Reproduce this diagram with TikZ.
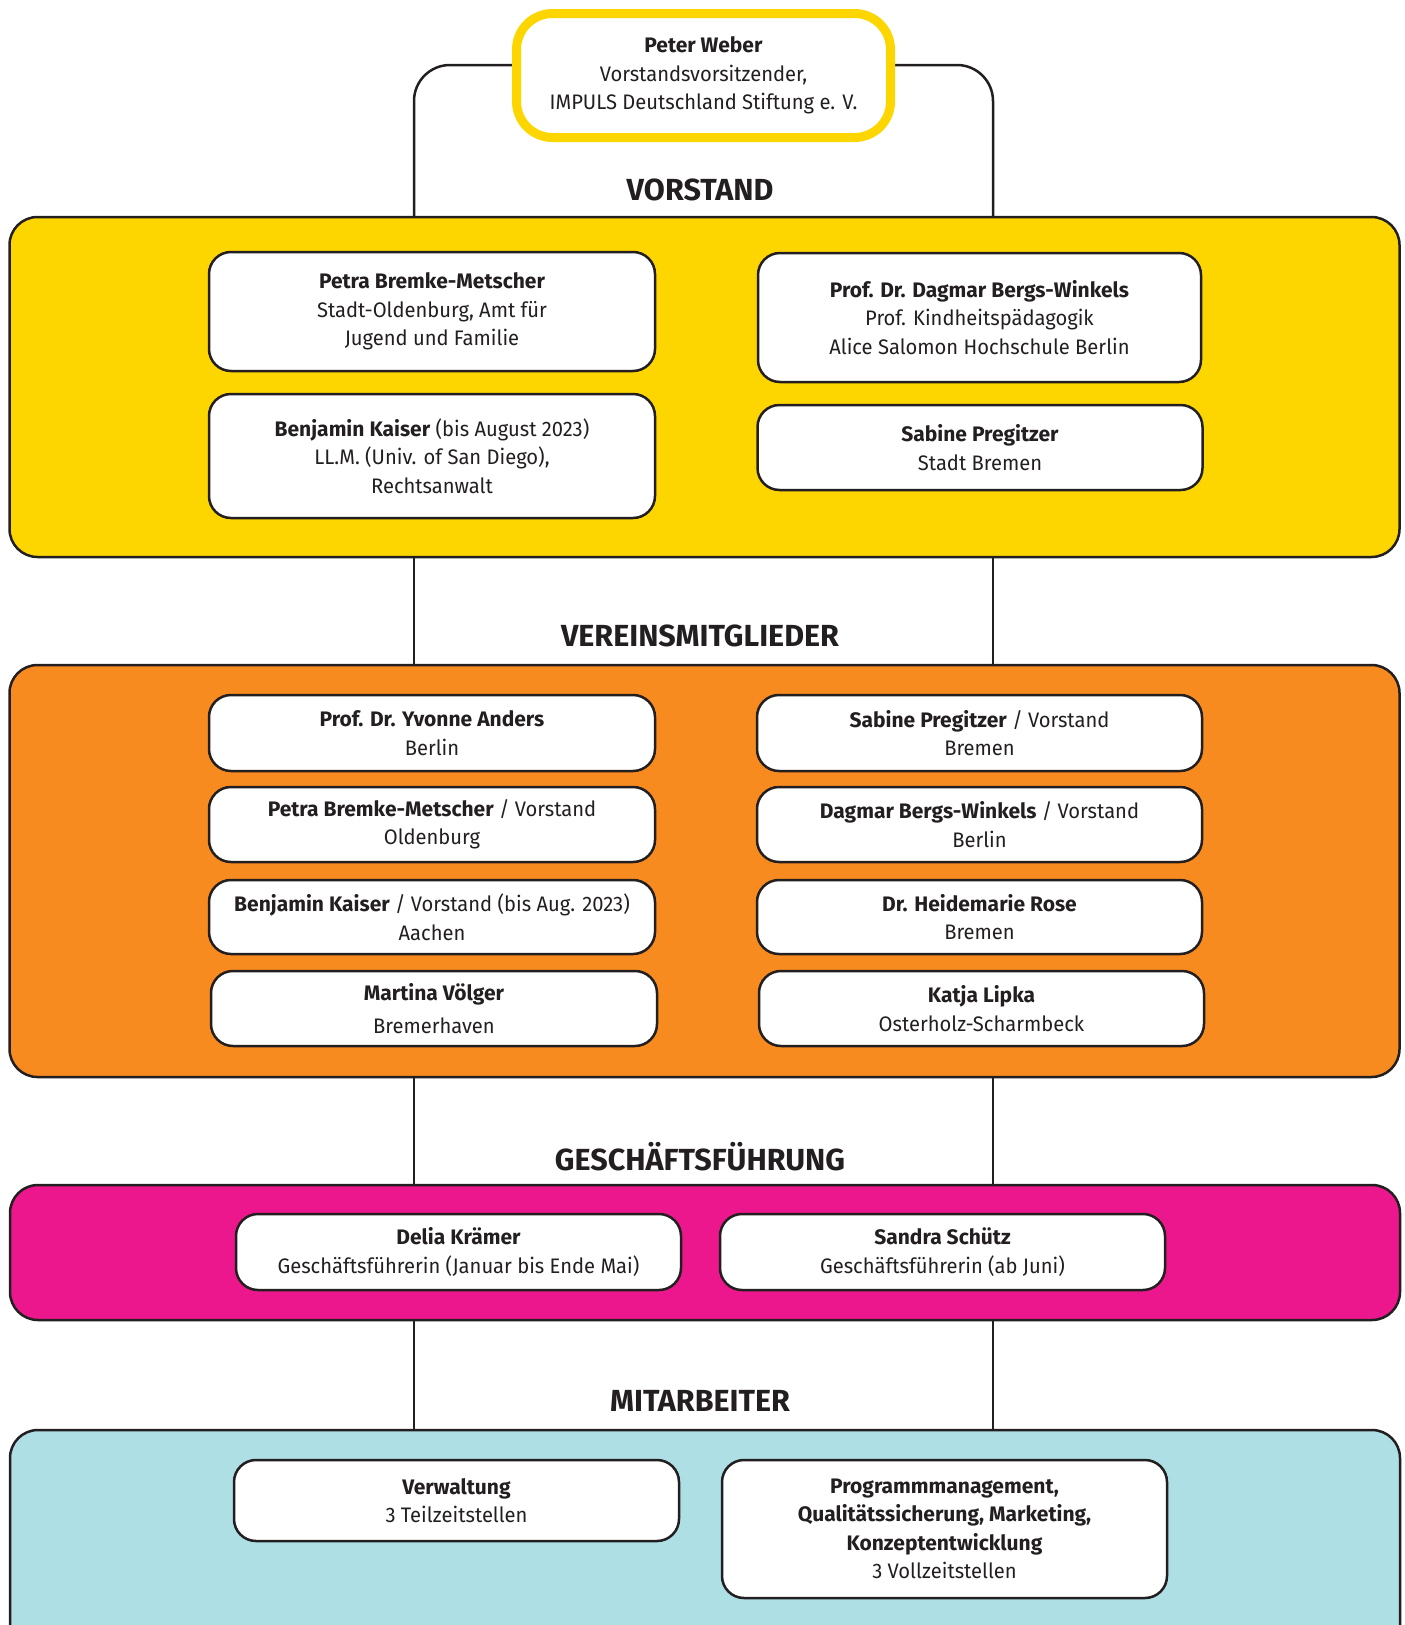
\documentclass[tikz,border=0pt]{standalone}
\usepackage{fontspec}
\setmainfont{Fira Sans}[FakeStretch=0.96, BoldFeatures={FakeStretch=1.0}]
\usetikzlibrary{backgrounds}
\definecolor{yel}{HTML}{FDD600}
\definecolor{ora}{HTML}{F78B1F}
\definecolor{mag}{HTML}{EC178C}
\definecolor{cya}{HTML}{ADDFE5}
\definecolor{ink}{HTML}{231F20}
\newcommand\myCardFont{\fontsize{21}{28.5}\selectfont}
\newcommand\myTitleFont{\fontsize{30.5}{36}\selectfont\bfseries}
\begin{document}
\begin{tikzpicture}[x=1pt,y=-1pt,
  band/.style={draw=ink, line width=2.5pt, rounded corners=28pt, minimum width=1390pt, inner sep=0pt},
  card/.style={draw=ink, line width=2.5pt, fill=white, rounded corners=22pt, align=center, font=\myCardFont, text=ink, inner sep=0pt},
  ttl/.style={font=\myTitleFont, text=ink},
  conn/.style={draw=ink, line width=2.5pt}]
\useasboundingbox (0,0) rectangle (1405,1625);
\clip (0,0) rectangle (1405,1625);

% bands
\node[band, fill=yel, minimum height=340pt] (yellow) at (704.5,387) {};
\node[band, fill=ora, minimum height=412pt] (orange) at (704.5,871) {};
\node[band, fill=mag, minimum height=135pt] (magenta) at (705,1252.5) {};
\node[band, fill=cya, minimum height=230pt] (cyan) at (705,1545) {};

% top box
\node[draw=yel, line width=9pt, fill=white, rounded corners=36pt, minimum width=374pt, minimum height=124pt, align=center, font=\myCardFont, text=ink, inner sep=0pt] (peter) at (703.5,75.5)
  {\textbf{Peter Weber}\\Vorstandsvorsitzender,\\IMPULS Deutschland Stiftung e. V.};

% titles
\node[ttl] (t1) at (700,190) {VORSTAND};
\node[ttl] (t2) at (700,636) {VEREINSMITGLIEDER};
\node[ttl] (t3) at (700,1157) {GESCHÄFTSFÜHRUNG};
\node[ttl] (t4) at (700,1401) {MITARBEITER};

% Vorstand cards
\node[card, minimum width=446pt, minimum height=119pt] (v1) at (432,311.5)
  {\textbf{Petra Bremke-Metscher}\\Stadt-Oldenburg, Amt für\\Jugend und Familie};
\node[card, minimum width=446pt, minimum height=124pt] (v2) at (432,456)
  {\textbf{Benjamin Kaiser} (bis August 2023)\\LL.M. (Univ. of San Diego),\\Rechtsanwalt};
\node[card, minimum width=443pt, minimum height=129pt] (v3) at (979.5,317.5)
  {\textbf{Prof. Dr. Dagmar Bergs-Winkels}\\Prof. Kindheitspädagogik\\Alice Salomon Hochschule Berlin};
\node[card, minimum width=445pt, minimum height=85pt] (v4) at (980,447.5)
  {\textbf{Sabine Pregitzer}\\Stadt Bremen};

% Vereinsmitglieder cards
\node[card, minimum width=446pt, minimum height=76pt] (m1) at (432,733)
  {\textbf{Prof. Dr. Yvonne Anders}\\Berlin};
\node[card, minimum width=446pt, minimum height=75pt] (m2) at (432,824.5)
  {\textbf{Petra Bremke-Metscher} / Vorstand\\Oldenburg};
\node[card, minimum width=446pt, minimum height=74pt] (m3) at (432,917)
  {\textbf{Benjamin Kaiser} / Vorstand (bis Aug. 2023)\\Aachen};
\node[card, minimum width=446pt, minimum height=75pt] (m4) at (434,1008.5)
  {\textbf{Martina Völger}\\[5pt]Bremerhaven};
\node[card, minimum width=445pt, minimum height=76pt] (m5) at (979.5,733)
  {\textbf{Sabine Pregitzer} / Vorstand\\Bremen};
\node[card, minimum width=445pt, minimum height=75pt] (m6) at (979.5,824.5)
  {\textbf{Dagmar Bergs-Winkels} / Vorstand\\Berlin};
\node[card, minimum width=445pt, minimum height=74pt] (m7) at (979.5,917)
  {\textbf{Dr. Heidemarie Rose}\\Bremen};
\node[card, minimum width=445pt, minimum height=75pt] (m8) at (981.5,1008.5)
  {\textbf{Katja Lipka}\\Osterholz-Scharmbeck};

% Geschaeftsfuehrung cards
\node[card, minimum width=445pt, minimum height=76pt] (g1) at (458.5,1252)
  {\textbf{Delia Krämer}\\Geschäftsführerin (Januar bis Ende Mai)};
\node[card, minimum width=445pt, minimum height=76pt] (g2) at (942.5,1252)
  {\textbf{Sandra Schütz}\\Geschäftsführerin (ab Juni)};

% Mitarbeiter cards
\node[card, minimum width=445pt, minimum height=81pt] (a1) at (456.5,1500.5)
  {\textbf{Verwaltung}\\3 Teilzeitstellen};
\node[card, minimum width=445pt, minimum height=138pt] (a2) at (944.5,1529)
  {\textbf{Programmmanagement,}\\\textbf{Qualitätssicherung, Marketing,}\\\textbf{Konzeptentwicklung}\\3 Vollzeitstellen};

% connectors
\coordinate (xl) at (414,65);
\coordinate (xr) at (993,65);
\begin{scope}[on background layer]
\draw[conn, rounded corners=36pt] (peter.west |- xl) -- (xl) -- (yellow.north -| xl);
\draw[conn, rounded corners=36pt] (peter.east |- xr) -- (xr) -- (yellow.north -| xr);
\draw[conn] (yellow.south -| xl) -- (orange.north -| xl);
\draw[conn] (yellow.south -| xr) -- (orange.north -| xr);
\draw[conn] (orange.south -| xl) -- (magenta.north -| xl);
\draw[conn] (orange.south -| xr) -- (magenta.north -| xr);
\draw[conn] (magenta.south -| xl) -- (cyan.north -| xl);
\draw[conn] (magenta.south -| xr) -- (cyan.north -| xr);
\end{scope}
\end{tikzpicture}
\end{document}
